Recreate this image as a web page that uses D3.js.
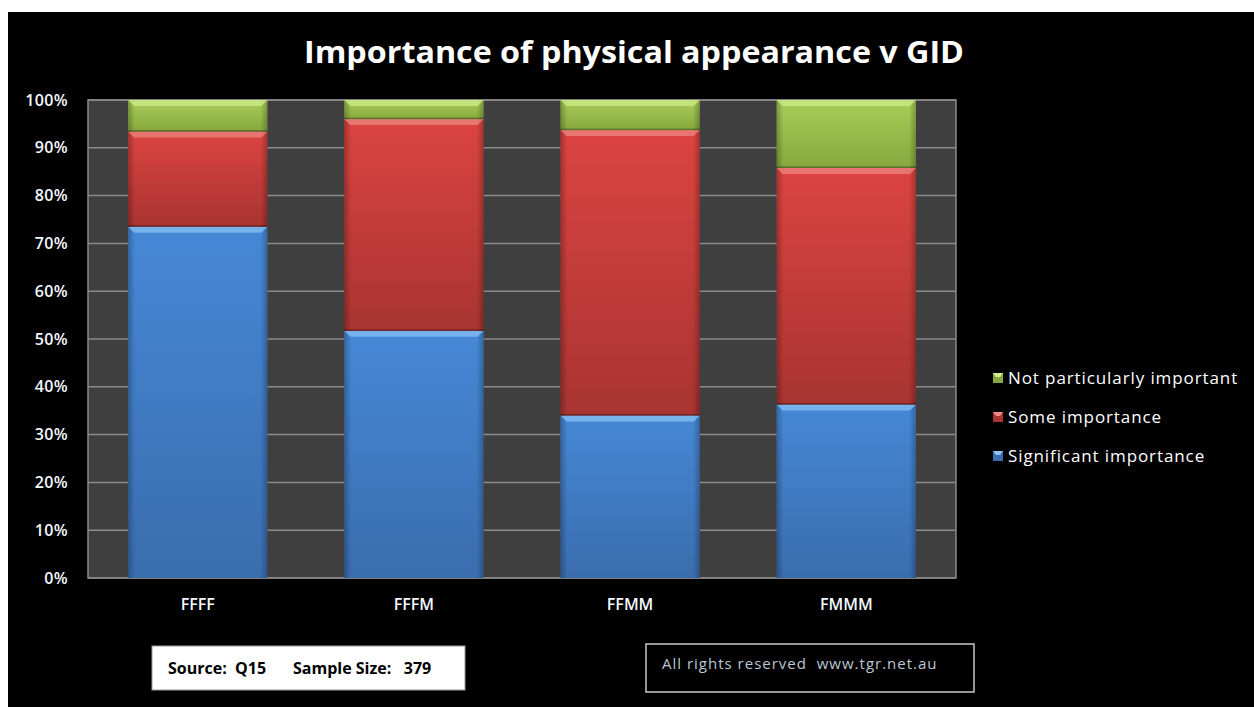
<!DOCTYPE html>
<html>
<head>
<meta charset="utf-8">
<script src="https://cdn.jsdelivr.net/npm/d3@7"></script>
<style>
  body { margin: 0; background: #fff; }
  svg { display: block; }
  text { font-family: "Open Sans", "DejaVu Sans", sans-serif; }
</style>
</head>
<body>
<svg width="1254" height="707"></svg>
<script>
// chart data (percent of respondents)
var categories = ["FFFF", "FFFM", "FFMM", "FMMM"];
var significant = [73.5, 51.7, 34.0, 36.3];
var someImportance = [19.9, 44.3, 59.7, 49.5];
var notImportant = [6.6, 4.0, 6.3, 14.2];
var seriesNames = ["Significant importance", "Some importance", "Not particularly important"];
var yTicks = [0, 10, 20, 30, 40, 50, 60, 70, 80, 90, 100];

var svg = d3.select("svg"),
    width = +svg.attr("width"),
    height = +svg.attr("height");

// colours: [top, bottom, bevel highlight]
var palette = {
  "Significant importance": ["#4688d6", "#3a6dae", "#8cc4f5"],
  "Some importance": ["#dc4440", "#a83431", "#f08a85"],
  "Not particularly important": ["#a8ce58", "#86a83e", "#d2ee8e"]
};

var plotLeft = 88, plotRight = 956, plotTop = 100, plotBottom = 578;

// black chart background (white margin top & left)
svg.append("rect")
    .attr("x", 8).attr("y", 12)
    .attr("width", width - 8).attr("height", height - 12)
    .attr("fill", "#000");

var defs = svg.append("defs");
seriesNames.forEach(function(name, i) {
  var g = defs.append("linearGradient")
      .attr("id", "grad" + i)
      .attr("x1", 0).attr("y1", 0).attr("x2", 0).attr("y2", 1);
  g.append("stop").attr("offset", "0%").attr("stop-color", palette[name][0]);
  g.append("stop").attr("offset", "100%").attr("stop-color", palette[name][1]);
  // side shading
  var h = defs.append("linearGradient")
      .attr("id", "side" + i)
      .attr("x1", 0).attr("y1", 0).attr("x2", 1).attr("y2", 0);
  h.append("stop").attr("offset", "0%").attr("stop-color", "#000").attr("stop-opacity", 0.25);
  h.append("stop").attr("offset", "5%").attr("stop-color", "#000").attr("stop-opacity", 0);
  h.append("stop").attr("offset", "95%").attr("stop-color", "#000").attr("stop-opacity", 0);
  h.append("stop").attr("offset", "100%").attr("stop-color", "#000").attr("stop-opacity", 0.25);
});

// title
svg.append("text")
    .attr("x", 634).attr("y", 63)
    .attr("text-anchor", "middle")
    .attr("fill", "#fff")
    .attr("font-size", 31)
    .attr("font-weight", "bold")
    .attr("textLength", 660)
    .attr("lengthAdjust", "spacingAndGlyphs")
    .text("Importance of physical appearance v GID");

var x = d3.scaleBand()
    .domain(categories)
    .range([plotLeft, plotRight])
    .paddingInner(0.355)
    .paddingOuter(0.185);

var y = d3.scaleLinear()
    .domain([0, 100])
    .range([plotBottom, plotTop]);

// plot area
svg.append("rect")
    .attr("x", plotLeft).attr("y", plotTop)
    .attr("width", plotRight - plotLeft).attr("height", plotBottom - plotTop)
    .attr("fill", "#3f3f3f");

// gridlines
svg.append("g")
  .selectAll("line")
  .data(yTicks)
  .join("line")
    .attr("x1", plotLeft).attr("x2", plotRight)
    .attr("y1", function(d) { return y(d); })
    .attr("y2", function(d) { return y(d); })
    .attr("stroke", "#8a8a8a")
    .attr("stroke-width", 1.5);

// plot border
svg.append("rect")
    .attr("x", plotLeft).attr("y", plotTop)
    .attr("width", plotRight - plotLeft).attr("height", plotBottom - plotTop)
    .attr("fill", "none")
    .attr("stroke", "#8a8a8a")
    .attr("stroke-width", 1.5);

// y axis
var yAxis = svg.append("g")
    .attr("transform", "translate(" + (plotLeft - 20) + ",0)")
    .call(d3.axisLeft(y).tickValues(yTicks).tickSize(0).tickPadding(0)
      .tickFormat(function(d) { return d + "%"; }));
yAxis.select(".domain").remove();
yAxis.selectAll("text")
    .attr("fill", "#f4f8ff")
    .attr("font-size", 16)
    .attr("font-weight", 600)
    .attr("letter-spacing", 0.4)
    .attr("font-family", "Open Sans, sans-serif");

// x axis
var xAxis = svg.append("g")
    .attr("transform", "translate(0," + (plotBottom + 21) + ")")
    .call(d3.axisBottom(x).tickSize(0).tickPadding(0));
xAxis.select(".domain").remove();
xAxis.selectAll("text")
    .attr("fill", "#f4f8ff")
    .attr("font-size", 16)
    .attr("font-weight", 600)
    .attr("font-family", "Open Sans, sans-serif");

// stacked data
var rows = categories.map(function(c, i) {
  return {
    cat: c,
    "Significant importance": significant[i],
    "Some importance": someImportance[i],
    "Not particularly important": notImportant[i]
  };
});
var stacked = d3.stack().keys(seriesNames)(rows);

var bevel = 6;
var layers = svg.append("g")
  .selectAll("g")
  .data(stacked)
  .join("g");

layers.each(function(layer, i) {
  var g = d3.select(this);
  var segs = g.selectAll("g").data(layer).join("g");
  segs.append("rect")
      .attr("x", function(d) { return x(d.data.cat); })
      .attr("y", function(d) { return y(d[1]); })
      .attr("width", x.bandwidth())
      .attr("height", function(d) { return y(d[0]) - y(d[1]); })
      .attr("fill", "url(#grad" + i + ")");
  segs.append("rect")
      .attr("x", function(d) { return x(d.data.cat); })
      .attr("y", function(d) { return y(d[1]); })
      .attr("width", x.bandwidth())
      .attr("height", function(d) { return y(d[0]) - y(d[1]); })
      .attr("fill", "url(#side" + i + ")");
  // top bevel
  segs.append("path")
      .attr("d", function(d) {
        var x0 = x(d.data.cat), x1 = x0 + x.bandwidth(), yt = y(d[1]);
        return "M" + x0 + "," + yt + "L" + x1 + "," + yt +
               "L" + (x1 - bevel) + "," + (yt + bevel) + "L" + (x0 + bevel) + "," + (yt + bevel) + "Z";
      })
      .attr("fill", palette[seriesNames[i]][2])
      .attr("opacity", 0.7);
  // dark seam at the bottom of each segment
  segs.append("rect")
      .attr("x", function(d) { return x(d.data.cat); })
      .attr("y", function(d) { return y(d[0]) - 1.5; })
      .attr("width", x.bandwidth())
      .attr("height", 1.5)
      .attr("fill", "#000")
      .attr("opacity", function(d) { return d[0] > 0 ? 0.3 : 0; });
});

// legend (reverse order, top = last series)
var legendNames = seriesNames.slice().reverse();
var legend = svg.append("g")
  .selectAll("g")
  .data(legendNames)
  .join("g")
    .attr("transform", function(d, i) { return "translate(993," + (378 + i * 39) + ")"; });
legend.append("rect")
    .attr("x", 0).attr("y", -5)
    .attr("width", 10).attr("height", 10)
    .attr("fill", function(d) { return palette[d][1]; });
legend.append("path")
    .attr("d", "M0,-5L10,-5L7,-1L3,-1Z")
    .attr("fill", function(d) { return palette[d][2]; });
legend.append("text")
    .attr("x", 15).attr("y", 6)
    .attr("fill", "#fff")
    .attr("font-size", 17)
    .attr("letter-spacing", 0.9)
    .text(function(d) { return d; });

// source box
svg.append("rect")
    .attr("x", 152).attr("y", 646)
    .attr("width", 313).attr("height", 44)
    .attr("fill", "#fff")
    .attr("stroke", "#999");
svg.append("text")
    .attr("x", 168).attr("y", 674)
    .attr("font-size", 16)
    .attr("font-weight", "bold")
    .attr("fill", "#000")
    .attr("xml:space", "preserve")
    .text("Source:  Q15");
svg.append("text")
    .attr("x", 293).attr("y", 674)
    .attr("font-size", 16)
    .attr("font-weight", "bold")
    .attr("fill", "#000")
    .attr("xml:space", "preserve")
    .text("Sample Size:   379");

// rights box
svg.append("rect")
    .attr("x", 646).attr("y", 644)
    .attr("width", 328).attr("height", 48)
    .attr("fill", "none")
    .attr("stroke", "#c8c8c8")
    .attr("stroke-width", 1.5);
svg.append("text")
    .attr("x", 662).attr("y", 669)
    .attr("font-size", 15)
    .attr("letter-spacing", 1)
    .attr("fill", "#bcc6d2")
    .attr("xml:space", "preserve")
    .text("All rights reserved  www.tgr.net.au");
</script>
</body>
</html>
